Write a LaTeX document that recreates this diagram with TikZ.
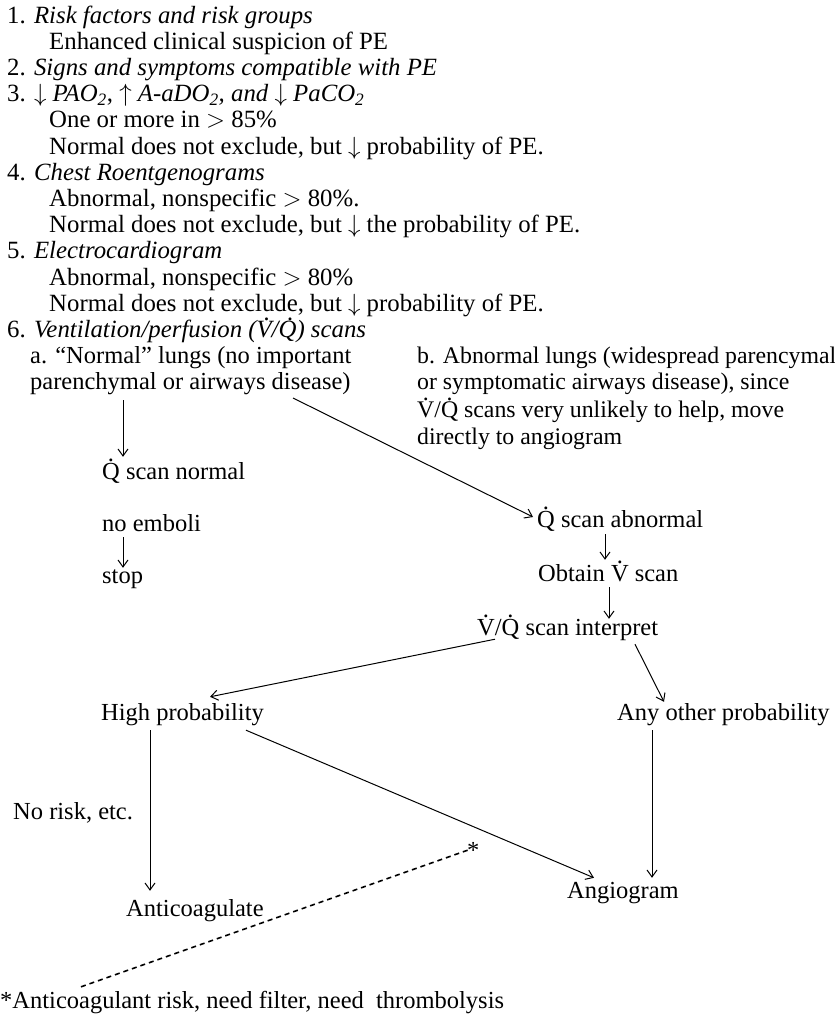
\documentclass[tikz,border=0pt]{standalone}
\usepackage{fontspec}
\setmainfont{Liberation Serif}
\usepackage{tikz}
\usetikzlibrary{arrows.meta,calc}
\newcommand\ovdot[2][0pt]{\leavevmode\ooalign{#2\cr\hidewidth\kern#1\raisebox{0.7em}{.}\hidewidth\cr}}
\tikzset{txt/.style={anchor=base west,inner sep=0pt,text height=18pt,text depth=6pt,font=\fontsize{24.5}{29}\selectfont},
  list/.style={txt,font=\fontsize{24.8}{29}\selectfont},
  bnote/.style={txt,font=\fontsize{23.8}{29}\selectfont},
  arr/.style={-{Straight Barb[length=7pt,width=10pt]},line width=1pt},
  dashline/.style={dash pattern=on 5pt off 4pt,line width=1.6pt}}
\begin{document}
\begin{tikzpicture}[x=1pt,y=-1pt]
\useasboundingbox (0,0) rectangle (835,1015);
\node[list] (risk) at (7,23) {1. \textit{Risk factors and risk groups}};
\node[list] (enh) at (49,49.2) {Enhanced clinical suspicion of PE};
\node[list] (signs) at (7,75.4) {2. \textit{Signs and symptoms compatible with PE}};
\node[list] (gas) at (7,101.6) {3. $\downarrow$ \textit{PAO\textsubscript{2}}, $\uparrow$ \textit{A-aDO\textsubscript{2}, and} $\downarrow$ \textit{PaCO\textsubscript{2}}};
\node[list] (gasa) at (49,127.8) {One or more in $>$ 85\%};
\node[list] (gasb) at (49,154) {Normal does not exclude, but $\downarrow$ probability of PE.};
\node[list] (chest) at (7,180.2) {4. \textit{Chest Roentgenograms}};
\node[list] (chesta) at (49,206.4) {Abnormal, nonspecific $>$ 80\%.};
\node[list] (chestb) at (49,232.6) {Normal does not exclude, but $\downarrow$ the probability of PE.};
\node[list] (ecg) at (7,258.8) {5. \textit{Electrocardiogram}};
\node[list] (ecga) at (49,285) {Abnormal, nonspecific $>$ 80\%};
\node[list] (ecgb) at (49,311.2) {Normal does not exclude, but $\downarrow$ probability of PE.};
\node[list] (vq) at (7,337.4) {6. \textit{Ventilation/perfusion (\ovdot[0.25em]{V}/\ovdot[0.25em]{Q}) scans}};
\node[txt] (norma) at (30,363.6) {a. ``Normal'' lungs (no important};
\node[txt] (normb) at (30,389.8) {parenchymal or airways disease)};
\node[bnote] (abna) at (417,363.6) {b. Abnormal lungs (widespread parencymal};
\node[bnote] (abnb) at (417,389.8) {or symptomatic airways disease), since};
\node[bnote] (abnc) at (417,417) {\ovdot{V}/\ovdot{Q} scans very unlikely to help, move};
\node[bnote] (abnd) at (417,444) {directly to angiogram};
\node[txt] (qnorm) at (102,479) {\ovdot{Q} scan normal};
\node[txt] (noemb) at (102,531) {no emboli};
\node[txt] (stop) at (102,583) {stop};
\node[txt] (qabn) at (537,527) {\ovdot{Q} scan abnormal};
\node[txt] (vscan) at (538,581) {Obtain \ovdot{V} scan};
\node[txt] (interp) at (477,635) {\ovdot{V}/\ovdot{Q} scan interpret};
\node[txt] (high) at (101,720) {High probability};
\node[txt] (other) at (617,720) {Any other probability};
\node[txt] (norisk) at (13,819) {No risk, etc.};
\node[txt] (antic) at (126,916) {Anticoagulate};
\node[txt] (angio) at (567,898) {Angiogram};
\node[txt] (star) at (467,858) {*};
\node[txt] (foot) at (0,1008) {*Anticoagulant risk, need filter, need\ \ thrombolysis};
\draw[arr] ($(normb.south west)+(93,4)$) -- ($(qnorm.north west)+(21,-4)$);
\draw[arr] ($(normb.south west)+(263,2)$) -- ($(qabn.west)+(-4,-4)$);
\draw[arr] ($(noemb.south west)+(21,0)$) -- ($(stop.north west)+(21,3)$);
\draw[arr] ($(qabn.south west)+(68,1)$) -- ($(vscan.north west)+(67,-3)$);
\draw[arr] ($(vscan.south west)+(71,0)$) -- ($(interp.north west)+(132,2)$);
\draw[arr] ($(interp.south west)+(18,-2)$) -- ($(high.north west)+(109,-5)$);
\draw[arr] ($(interp.south west)+(158,3)$) -- ($(other.north west)+(47,0)$);
\draw[arr] ($(high.south west)+(49,4)$) -- ($(antic.north west)+(24,-7)$);
\draw[arr] ($(high.south west)+(145,4)$) -- ($(angio.north west)+(27,-2)$);
\draw[arr] ($(other.south west)+(35,4)$) -- ($(angio.north west)+(85,-2)$);
\draw[dashline] ($(foot.north west)+(81,-3)$) -- ($(star.base west)+(4,-9)$);
\end{tikzpicture}
\end{document}
